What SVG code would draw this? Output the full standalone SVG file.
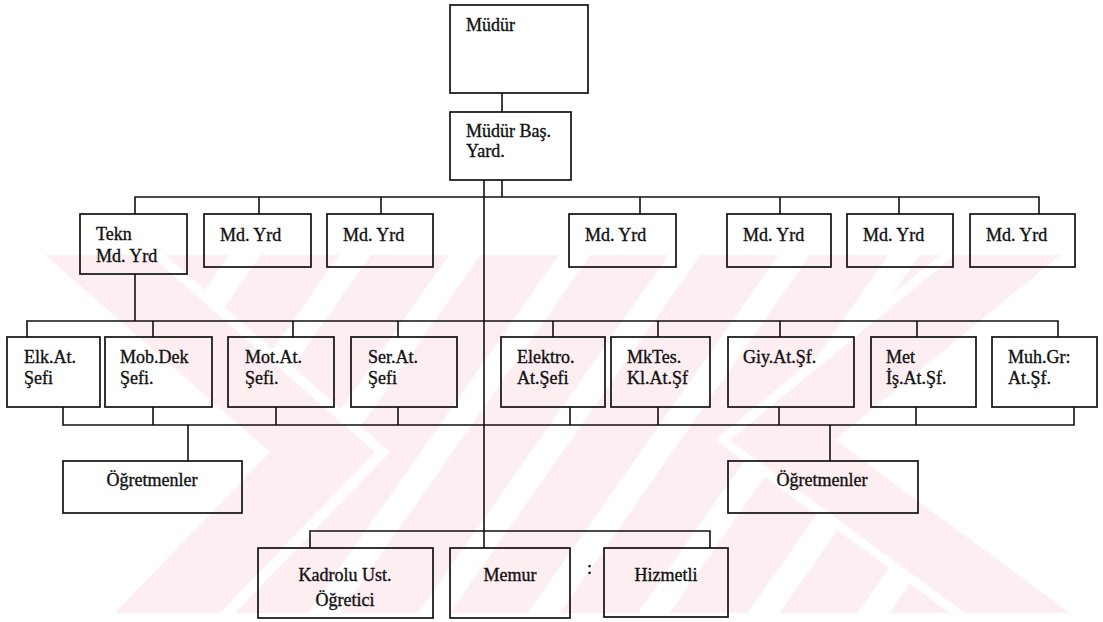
<svg xmlns="http://www.w3.org/2000/svg" width="1103" height="622" viewBox="0 0 1103 622">
<defs>
<style>
.box{fill:none;stroke:#111;stroke-width:1.7}
.ln{fill:none;stroke:#111;stroke-width:1.6}
.t{font-family:"Liberation Serif","Times New Roman",serif;font-size:18px;fill:#111;stroke:#111;stroke-width:0.35}
.c{text-anchor:middle}
.wm{fill:#fdeef1}
</style>
<pattern id="stripes" width="90" height="20" patternUnits="userSpaceOnUse" patternTransform="rotate(35)">
<rect x="0" y="0" width="64" height="20" fill="#fdeef1"/>
</pattern>
</defs>
<rect x="0" y="0" width="1103" height="622" fill="#ffffff"/>
<g id="watermark">
<polygon class="wm" points="45,255 150,255 375,452 220,613 115,613 270,452"/>
<polygon class="wm" points="955,255 1060,255 835,440 1070,613 965,613 730,440"/>
<polygon fill="url(#stripes)" points="165,255 940,255 715,440 950,613 235,613 390,452"/>
</g>
<g id="connectors">
<path class="ln" d="M502,93 V112"/>
<path class="ln" d="M484,180 V548"/>
<path class="ln" d="M502,180 V197"/>
<path class="ln" d="M135,214 V197 H1039 V214"/>
<path class="ln" d="M259,197 V214 M381,197 V214 M640,197 V214 M780,197 V214 M899,197 V214"/>
<path class="ln" d="M135,274 V321"/>
<path class="ln" d="M27,337 V321 H1058 V337"/>
<path class="ln" d="M153,321 V337 M293,321 V337 M398,321 V337 M553,321 V337 M658,321 V337 M780,321 V337 M917,321 V337"/>
<path class="ln" d="M63,407 V425 H1074 V407"/>
<path class="ln" d="M153,407 V425 M276,407 V425 M398,407 V425 M570,407 V425 M658,407 V425 M779,407 V425 M916,407 V425"/>
<path class="ln" d="M188,425 V461"/>
<path class="ln" d="M830,425 V461"/>
<path class="ln" d="M310,548 V531 H710 V548"/>
</g>
<g id="n-mudur"><rect class="box" x="450" y="5" width="138" height="88"/><text class="t" x="466" y="31">Müdür</text></g>
<g id="n-basyard"><rect class="box" x="450" y="112" width="121" height="68"/><text class="t" x="466" y="137">Müdür Baş.</text><text class="t" x="466" y="157">Yard.</text></g>
<g id="n-tekn"><rect class="box" x="80" y="214" width="107" height="60"/><text class="t" x="96" y="240">Tekn</text><text class="t" x="96" y="262">Md. Yrd</text></g>
<g id="n-mdyrd2"><rect class="box" x="204" y="214" width="107" height="53"/><text class="t" x="220" y="241">Md. Yrd</text></g>
<g id="n-mdyrd3"><rect class="box" x="327" y="214" width="106" height="53"/><text class="t" x="343" y="241">Md. Yrd</text></g>
<g id="n-mdyrd4"><rect class="box" x="569" y="214" width="107" height="53"/><text class="t" x="585" y="241">Md. Yrd</text></g>
<g id="n-mdyrd5"><rect class="box" x="727" y="214" width="104" height="53"/><text class="t" x="743" y="241">Md. Yrd</text></g>
<g id="n-mdyrd6"><rect class="box" x="847" y="214" width="106" height="53"/><text class="t" x="863" y="241">Md. Yrd</text></g>
<g id="n-mdyrd7"><rect class="box" x="970" y="214" width="105" height="53"/><text class="t" x="986" y="241">Md. Yrd</text></g>
<g id="n-elk"><rect class="box" x="7" y="337" width="93" height="70"/><text class="t" x="24" y="363">Elk.At.</text><text class="t" x="24" y="384">Şefi</text></g>
<g id="n-mob"><rect class="box" x="105" y="337" width="107" height="70"/><text class="t" x="120" y="363">Mob.Dek</text><text class="t" x="120" y="384">Şefi.</text></g>
<g id="n-mot"><rect class="box" x="228" y="337" width="106" height="70"/><text class="t" x="245" y="363">Mot.At.</text><text class="t" x="245" y="384">Şefi.</text></g>
<g id="n-ser"><rect class="box" x="351" y="337" width="106" height="70"/><text class="t" x="368" y="363">Ser.At.</text><text class="t" x="368" y="384">Şefi</text></g>
<g id="n-elektro"><rect class="box" x="501" y="337" width="104" height="70"/><text class="t" x="517" y="363">Elektro.</text><text class="t" x="517" y="384">At.Şefi</text></g>
<g id="n-mktes"><rect class="box" x="611" y="337" width="99" height="70"/><text class="t" x="627" y="363">MkTes.</text><text class="t" x="627" y="384">Kl.At.Şf</text></g>
<g id="n-giy"><rect class="box" x="728" y="337" width="126" height="70"/><text class="t" x="743" y="363">Giy.At.Şf.</text></g>
<g id="n-met"><rect class="box" x="871" y="337" width="105" height="70"/><text class="t" x="886" y="363">Met</text><text class="t" x="886" y="384">İş.At.Şf.</text></g>
<g id="n-muh"><rect class="box" x="992" y="337" width="105" height="70"/><text class="t" x="1008" y="363">Muh.Gr:</text><text class="t" x="1008" y="384">At.Şf.</text></g>
<g id="n-ogret1"><rect class="box" x="63" y="461" width="179" height="52"/><text class="t c" x="152" y="486">Öğretmenler</text></g>
<g id="n-ogret2"><rect class="box" x="728" y="461" width="190" height="52"/><text class="t c" x="822" y="486">Öğretmenler</text></g>
<g id="n-kadrolu"><rect class="box" x="258" y="548" width="175" height="70"/><text class="t c" x="345" y="581">Kadrolu Ust.</text><text class="t c" x="345" y="606">Öğretici</text></g>
<g id="n-memur"><rect class="box" x="450" y="548" width="120" height="70"/><text class="t c" x="510" y="581">Memur</text></g>
<g id="n-hizmetli"><rect class="box" x="604" y="548" width="124" height="69"/><text class="t c" x="666" y="581">Hizmetli</text></g>
<text class="t" x="587" y="574">:</text>
</svg>
